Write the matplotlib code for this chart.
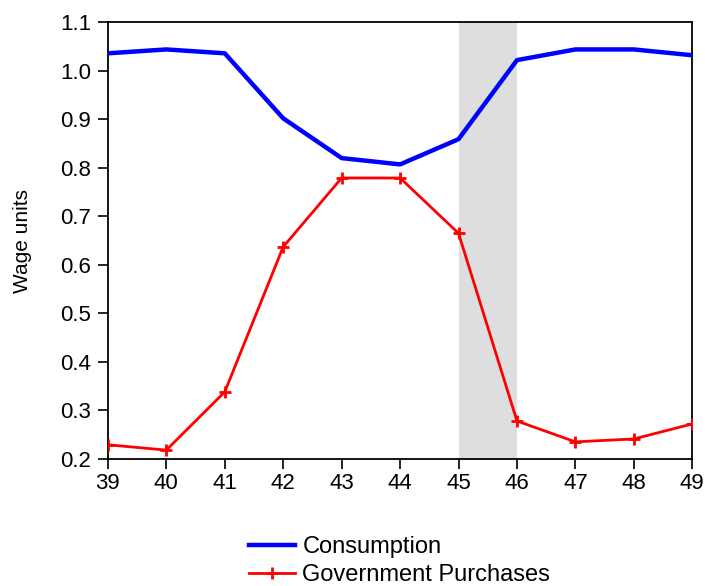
import matplotlib
matplotlib.use("Agg")
import matplotlib.pyplot as plt

plt.rcParams['font.family'] = ['Liberation Sans', 'DejaVu Sans']

years = [39, 40, 41, 42, 43, 44, 45, 46, 47, 48, 49]
consumption = [1.036, 1.044, 1.036, 0.902, 0.820, 0.807, 0.859, 1.022, 1.044, 1.044, 1.032]
gov_purchases = [0.229, 0.218, 0.338, 0.637, 0.779, 0.779, 0.665, 0.278, 0.235, 0.241, 0.272]
shade_start, shade_end = 45, 46

fig = plt.figure(figsize=(7.05, 5.86), dpi=100)
ax = fig.add_axes([0.153, 0.217, 0.829, 0.745])

ax.axvspan(shade_start, shade_end, color='#dedede', lw=0, zorder=0)
ax.plot(years, consumption, color='#0000ff', lw=3.2, label='Consumption', zorder=3)
ax.plot(years, gov_purchases, color='#ff0000', lw=2, marker='+', ms=8, mew=2,
        label='Government Purchases', zorder=3)

ax.set_xlim(39, 49)
ax.set_ylim(0.2, 1.1)
ax.set_xticks(years)
ax.set_yticks([0.2, 0.3, 0.4, 0.5, 0.6, 0.7, 0.8, 0.9, 1.0, 1.1])
ax.yaxis.set_major_formatter(matplotlib.ticker.FormatStrFormatter('%.1f'))
ax.tick_params(direction='out', length=7, width=1.2, labelsize=16,
               top=False, right=False)
ax.tick_params(axis='y', pad=5)
ax.tick_params(axis='x', pad=3)
for s in ax.spines.values():
    s.set_linewidth(1.3)
ax.set_ylabel('Wage units', fontsize=15, labelpad=20)

fig.legend(loc='lower center', bbox_to_anchor=(0.567, -0.036), frameon=False,
           fontsize=17, handlelength=1.95, handletextpad=0.3, labelspacing=0.25)

fig.savefig('out.png', dpi=100)
